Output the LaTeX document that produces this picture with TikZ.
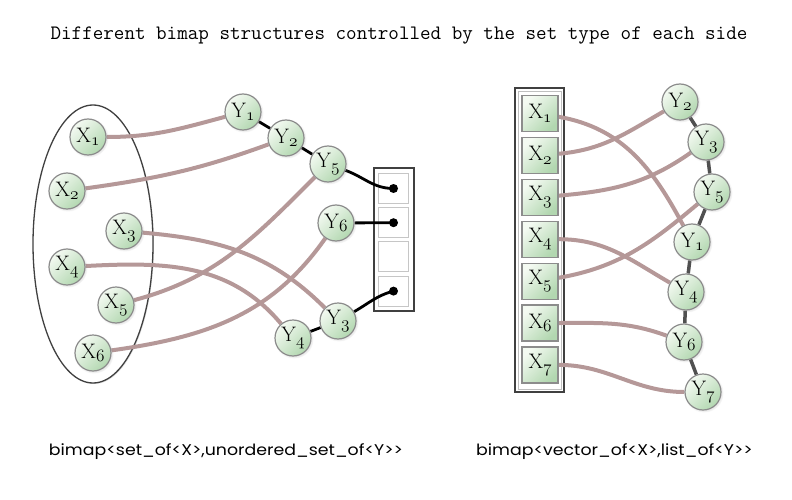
\documentclass[tikz,border=0pt]{standalone}
\usepackage{fontspec}
\newfontfamily\typefont{Poppins}[FakeStretch=1.12]
\usetikzlibrary{arrows.meta, calc, positioning, shapes.geometric, shadows}
\definecolor{mylink}{RGB}{181,152,152}
\definecolor{mylightgreen}{RGB}{244,250,242}
\definecolor{mygreen}{RGB}{178,215,176}
\definecolor{mychain}{RGB}{80,80,80}
\definecolor{myrim}{RGB}{140,140,140}
\pgfdeclarelayer{back}
\pgfdeclarelayer{links}
\pgfsetlayers{back,links,main}
\newcommand{\osn}[1]{{\usefont{OML}{lmm}{m}{it}#1}}
\newcommand{\elemlabel}[2]{#1\raisebox{-0.4ex}{\fontsize{17}{17}\selectfont\osn{#2}}}

\begin{document}
\begin{tikzpicture}[x=1pt, y=1pt]
\tikzset{
  elem/.style={circle, draw=myrim, line width=1.2pt, minimum size=36pt, inner sep=0pt,
    top color=mylightgreen, bottom color=mygreen, shading angle=45,
    circular drop shadow={shadow xshift=0.8pt, shadow yshift=-0.8pt, opacity=0.2},
    font=\fontsize{21}{21}\selectfont},
  cell/.style={rectangle, draw=myrim, line width=1.2pt, minimum size=36pt, inner sep=0pt,
    top color=mylightgreen, bottom color=mygreen, shading angle=45,
    font=\fontsize{21}{21}\selectfont},
  slot/.style={rectangle, draw=gray!45, line width=1pt, minimum size=30pt, fill=white},
  frame/.style={draw=black!75, line width=1.3pt, fill=white,
    drop shadow={shadow xshift=1pt, shadow yshift=-1pt, opacity=0.25}},
  knob/.style={circle, fill=black, minimum size=9pt, inner sep=0pt},
  link/.style={mylink, line width=4pt},
  bond/.style={black, line width=2.8pt},
  chain/.style={mychain, line width=3.5pt},
}
\useasboundingbox (0,0) rectangle (792,-500);

% Title
\node[font=\ttfamily\fontsize{20.5}{20.5}\selectfont] (title) at (399,-36)
  {Different bimap structures controlled by the set type of each side};

% Left: set_of X
\node[elem] (xa1) at (88,-137) {\elemlabel{X}{1}};
\node[elem] (xa2) at (67,-191) {\elemlabel{X}{2}};
\node[elem] (xa3) at (124,-231) {\elemlabel{X}{3}};
\node[elem] (xa4) at (67,-267) {\elemlabel{X}{4}};
\node[elem] (xa5) at (116,-305) {\elemlabel{X}{5}};
\node[elem] (xa6) at (93,-353) {\elemlabel{X}{6}};

% Left: unordered_set_of Y
\node[elem] (ya1) at (243,-112) {\elemlabel{Y}{1}};
\node[elem] (ya2) at (286,-138) {\elemlabel{Y}{2}};
\node[elem] (ya5) at (328,-164) {\elemlabel{Y}{5}};
\node[elem] (ya6) at (336,-223) {\elemlabel{Y}{6}};
\node[elem] (ya3) at (338,-321) {\elemlabel{Y}{3}};
\node[elem] (ya4) at (293,-338) {\elemlabel{Y}{4}};

\begin{pgfonlayer}{back}
\node[frame, ellipse, minimum width=120pt, minimum height=278pt] (xset) at (93,-244) {};
\node[frame, rectangle, minimum width=40pt, minimum height=143pt] (buckets) at (394,-239.5) {};
\foreach \i in {0,...,3}
  \node[slot] (slot\i) at (393.5,-188.5-34.2*\i) {};
\end{pgfonlayer}
\node[knob] (kn0) at (slot0) {};
\node[knob] (kn1) at (slot1) {};
\node[knob] (kn3) at (slot3) {};

\begin{pgfonlayer}{links}
\draw[link] (xa1) to[out=0, in=195] (ya1);
\draw[link] (xa2) to[out=8, in=200] (ya2);
\draw[link] (xa3) to[out=-5, in=135] (ya3);
\draw[link] (xa4) to[out=3, in=130] (ya4);
\draw[link] (xa5) to[out=15, in=225] (ya5);
\draw[link] (xa6) to[out=8, in=235] (ya6);
\draw[bond] (ya1) -- (ya2);
\draw[bond] (ya2) -- (ya5);
\draw[bond] (ya5) to[out=-20, in=180] (kn0.center);
\draw[bond] (ya6) -- (kn1.center);
\draw[bond] (ya4) -- (ya3);
\draw[bond] (ya3) to[out=30, in=195] (kn3.center);
\end{pgfonlayer}

% Right: vector_of X
\begin{pgfonlayer}{back}
\node[frame, rectangle, minimum width=49pt, minimum height=304pt] (xvector) at (539.5,-240) {};
\node[rectangle, draw=gray!50, line width=0.8pt, minimum width=43pt, minimum height=298pt] (xvectorin) at (539.5,-240) {};
\end{pgfonlayer}
\foreach \i in {1,...,7}
  \node[cell] (xb\i) at (540,-71.6-41.9*\i) {\elemlabel{X}{\i}};

% Right: list_of Y
\node[elem] (yb2) at (680,-102) {\elemlabel{Y}{2}};
\node[elem] (yb3) at (706,-142) {\elemlabel{Y}{3}};
\node[elem] (yb5) at (712,-192) {\elemlabel{Y}{5}};
\node[elem] (yb1) at (692,-242) {\elemlabel{Y}{1}};
\node[elem] (yb4) at (686,-292) {\elemlabel{Y}{4}};
\node[elem] (yb6) at (684,-342) {\elemlabel{Y}{6}};
\node[elem] (yb7) at (703,-392) {\elemlabel{Y}{7}};

\begin{pgfonlayer}{links}
\draw[chain] (yb2) -- (yb3) -- (yb5) -- (yb1) -- (yb4) -- (yb6) -- (yb7);
\draw[link] (xb1) to[out=-10, in=118] (yb1);
\draw[link] (xb2) to[out=5, in=210] (yb2);
\draw[link] (xb3) to[out=5, in=215] (yb3);
\draw[link] (xb4) to[out=0, in=150] (yb4);
\draw[link] (xb5) to[out=10, in=220] (yb5);
\draw[link] (xb6) to[out=0, in=160] (yb6);
\draw[link] (xb7) to[out=0, in=180] (yb7);
\end{pgfonlayer}

% Type names
\node[font=\typefont\fontsize{15.5}{15.5}\selectfont] (lefttype) at (226,-452)
  {bimap<set\_of<X>,unordered\_set\_of<Y>>};
\node[font=\typefont\fontsize{15.5}{15.5}\selectfont] (righttype) at (614.5,-452)
  {bimap<vector\_of<X>,list\_of<Y>>};
\end{tikzpicture}
\end{document}
